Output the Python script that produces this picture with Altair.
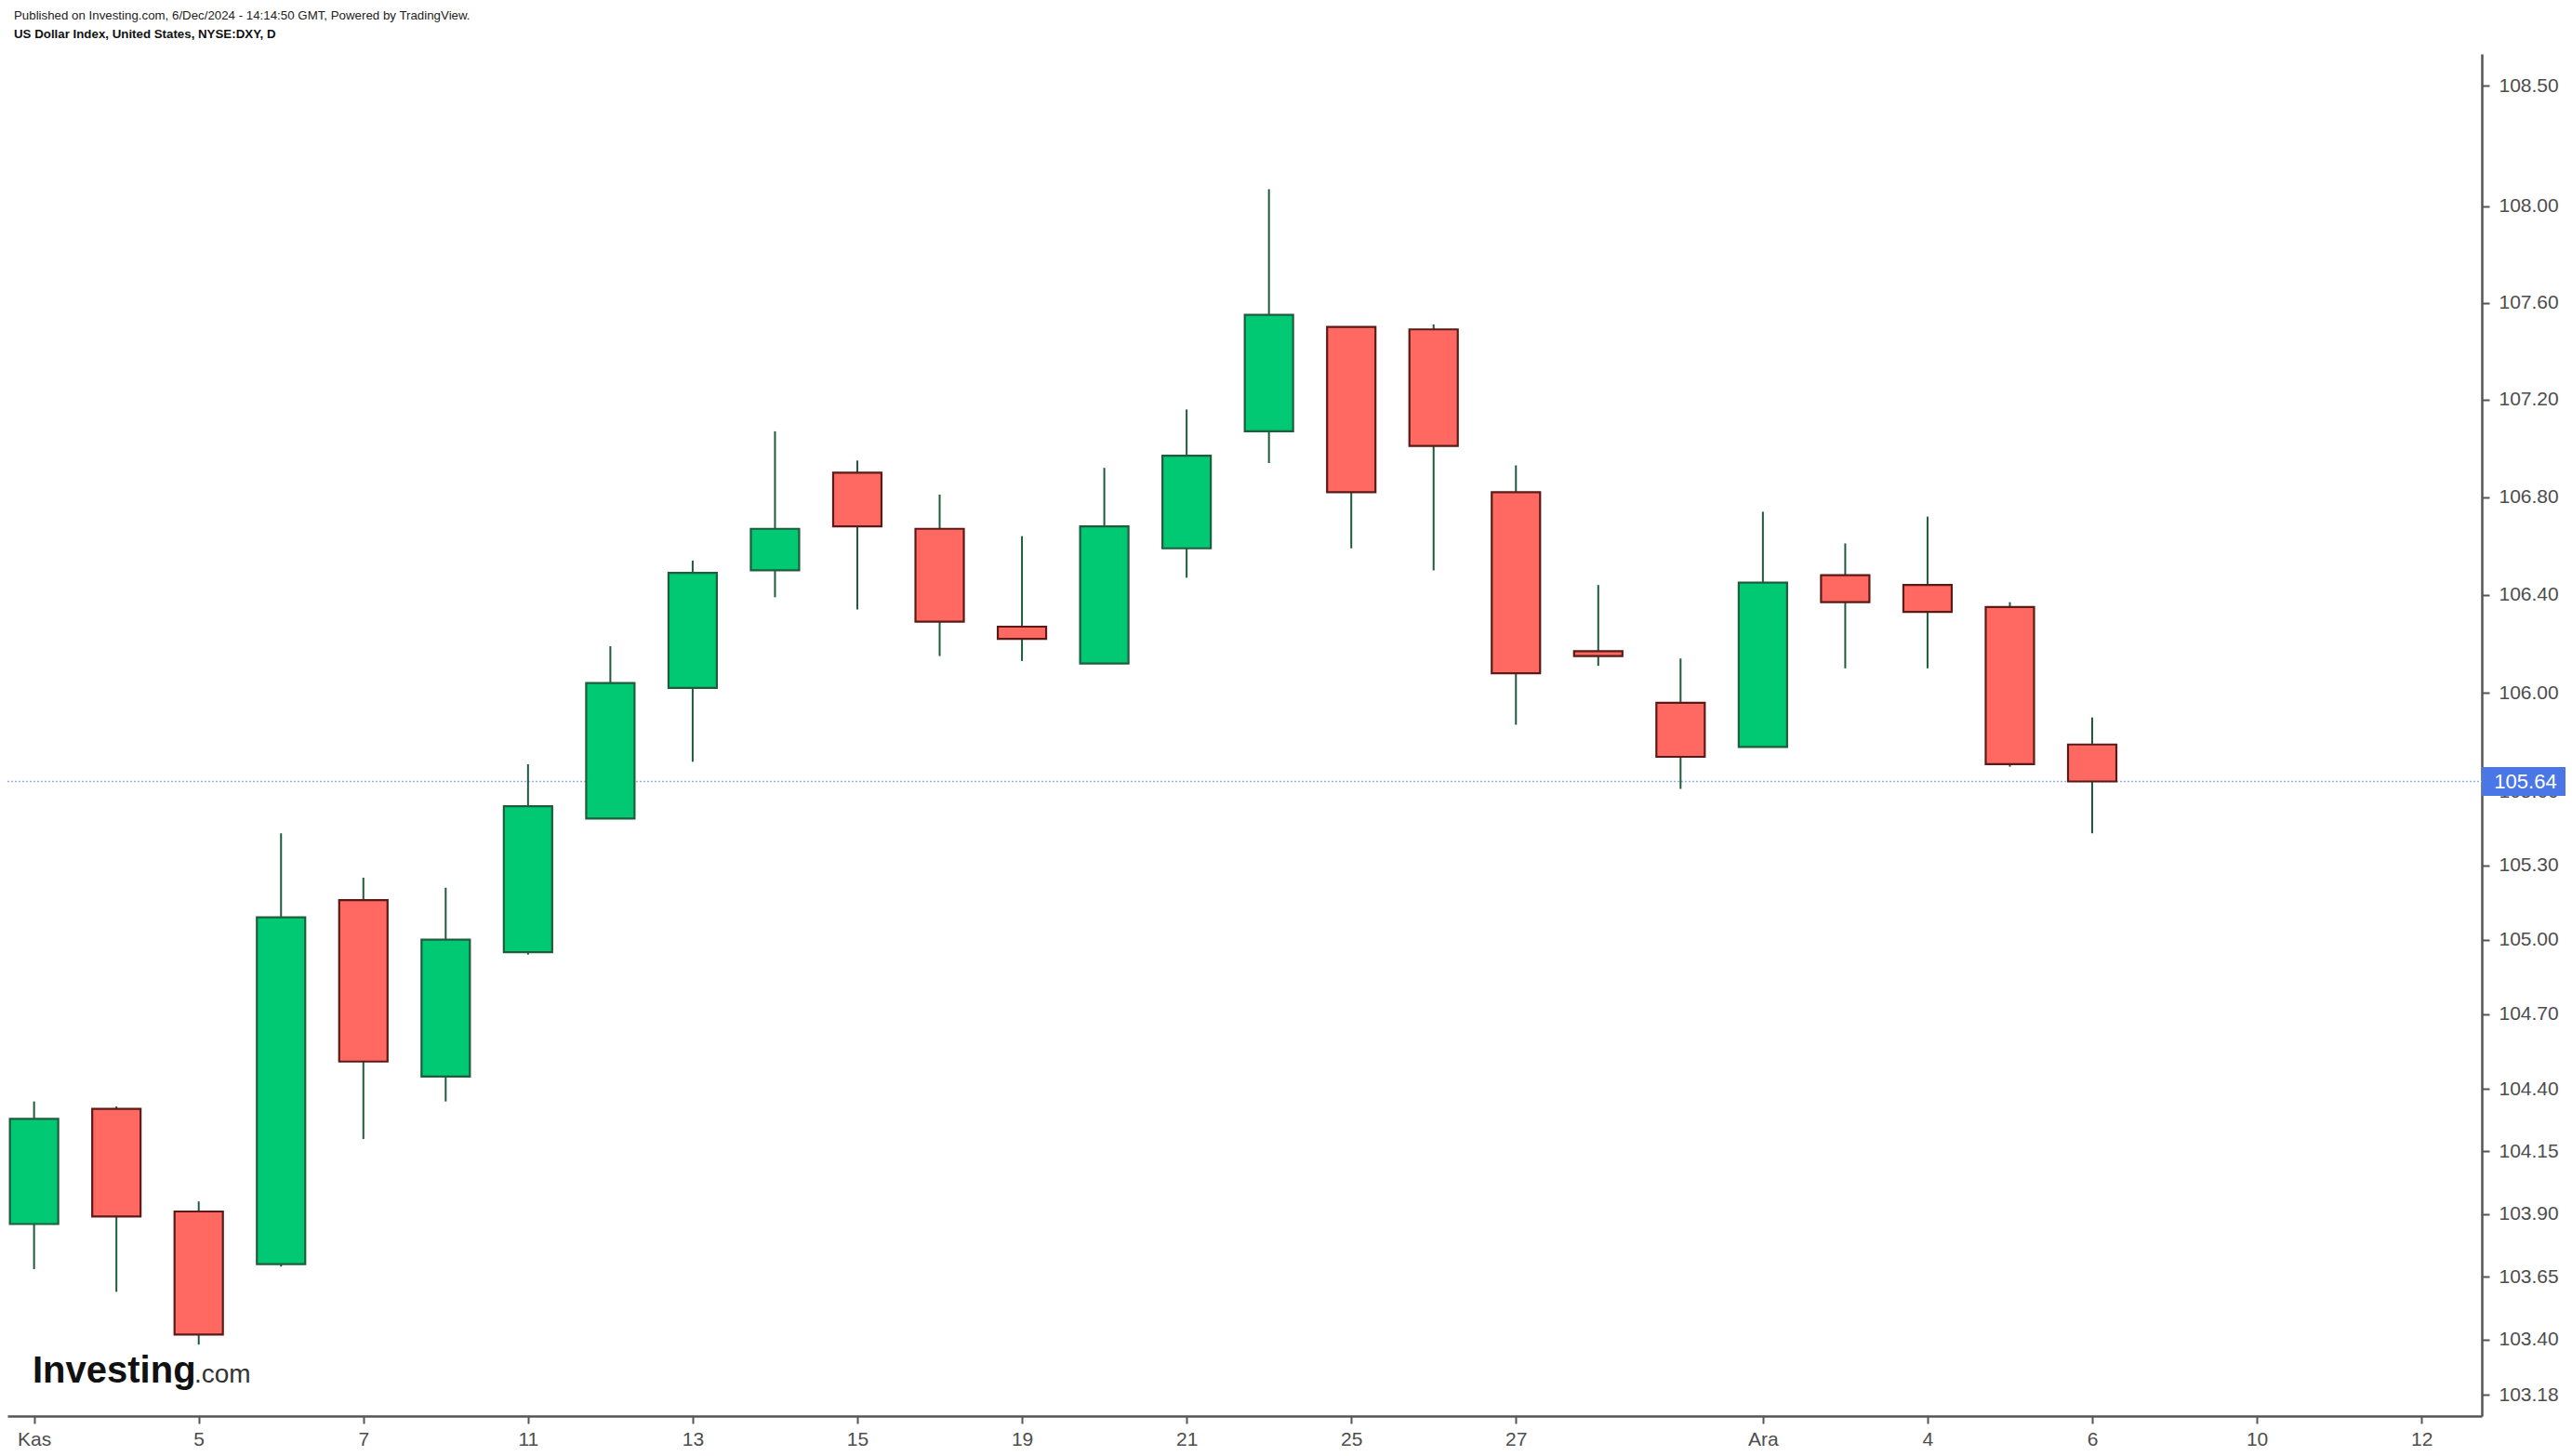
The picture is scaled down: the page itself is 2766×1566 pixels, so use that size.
import altair as alt
import pandas as pd

# ---- data ----
dates = ["2024-11-01", "2024-11-04", "2024-11-05", "2024-11-06", "2024-11-07", "2024-11-08",
         "2024-11-11", "2024-11-12", "2024-11-13", "2024-11-14", "2024-11-15", "2024-11-18",
         "2024-11-19", "2024-11-20", "2024-11-21", "2024-11-22", "2024-11-25", "2024-11-26",
         "2024-11-27", "2024-11-28", "2024-11-29", "2024-12-02", "2024-12-03", "2024-12-04",
         "2024-12-05", "2024-12-06"]
opens = [103.86, 104.32, 103.91, 103.70, 105.16, 104.45, 104.95, 105.49, 106.02, 106.50,
         106.90, 106.67, 106.27, 106.12, 106.59, 107.07, 107.50, 107.49, 106.82, 106.17,
         105.96, 105.78, 106.48, 106.44, 106.35, 105.79]
highs = [104.35, 104.33, 103.95, 105.43, 105.25, 105.21, 105.71, 106.19, 106.54, 107.07,
         106.95, 106.81, 106.64, 106.92, 107.16, 108.07, 107.50, 107.51, 106.93, 106.44,
         106.14, 106.74, 106.61, 106.72, 106.37, 105.90]
lows = [103.68, 103.59, 103.38, 103.69, 104.20, 104.35, 104.94, 105.49, 105.72, 106.39,
        106.34, 106.15, 106.13, 106.12, 106.47, 106.94, 106.59, 106.50, 105.87, 106.11,
        105.61, 105.78, 106.10, 106.10, 105.70, 105.43]
closes = [104.28, 103.89, 103.42, 105.09, 104.51, 105.00, 105.54, 106.04, 106.49, 106.67,
          106.68, 106.29, 106.22, 106.68, 106.97, 107.55, 106.82, 107.01, 106.08, 106.15,
          105.74, 106.45, 106.37, 106.33, 105.71, 105.64]

# trading-day axis (including the empty days to the right)
axis_labels = ["Kas", "", "5", "", "7", "", "11", "", "13", "", "15", "", "19", "", "21", "",
               "25", "", "27", "", "", "Ara", "", "4", "", "6", "", "10", "", "12"]
y_ticks = [103.18, 103.40, 103.65, 103.90, 104.15, 104.40, 104.70, 105.00, 105.30, 105.60,
           106.00, 106.40, 106.80, 107.20, 107.60, 108.00, 108.50]
header = ["Published on Investing.com, 6/Dec/2024 - 14:14:50 GMT, Powered by TradingView.",
          "US Dollar Index, United States, NYSE:DXY, D"]
last_price = closes[-1]

df = pd.DataFrame({"date": dates, "open": opens, "high": highs, "low": lows, "close": closes})
df["idx"] = range(len(df))
df["dir"] = ["up" if c >= o else "down" for o, c in zip(opens, closes)]

x_ticks = [i for i, l in enumerate(axis_labels) if l]
label_array = "[" + ",".join("'" + l + "'" for l in axis_labels) + "]"

W, H = 2661, 1465
xscale = alt.Scale(domain=[-0.267, 29.676], nice=False, zero=False)
yscale = alt.Scale(type="log", domain=[103.097, 108.633], nice=False, zero=False)

x_enc = alt.X("idx:Q", scale=xscale,
              axis=alt.Axis(values=x_ticks, labelExpr=label_array + "[datum.value]",
                            title=None, grid=False, domainColor="#555555", domainWidth=2.5,
                            tickColor="#555555", tickWidth=2, tickSize=8, labelPadding=6,
                            labelFontSize=21, labelColor="#4d4d4d", labelFont="Liberation Sans"))
y_axis = alt.Axis(orient="right", values=y_ticks, format=".2f", title=None, grid=False,
                  domainColor="#555555", domainWidth=2.5, tickColor="#555555", tickWidth=2,
                  tickSize=8, labelPadding=10, labelFontSize=21, labelColor="#4d4d4d",
                  labelFont="Liberation Sans")

base = alt.Chart(df)

wicks = base.mark_rule(color="#1e5b3b", strokeWidth=2).encode(
    x=x_enc,
    y=alt.Y("low:Q", scale=yscale, axis=y_axis),
    y2="high:Q",
)

bodies = base.mark_bar(size=52, strokeWidth=2.2).encode(
    x=alt.X("idx:Q", scale=xscale),
    y=alt.Y("open:Q", scale=yscale),
    y2="close:Q",
    fill=alt.Fill("dir:N", scale=alt.Scale(domain=["up", "down"], range=["#00c873", "#ff6961"]), legend=None),
    stroke=alt.Stroke("dir:N", scale=alt.Scale(domain=["up", "down"], range=["#1e5e3c", "#5c1a16"]), legend=None),
)

price_df = pd.DataFrame({"price": [last_price], "label": [f"{last_price:.2f}"]})
price_line = alt.Chart(price_df).mark_rule(color="#93aef0", strokeWidth=1.5, strokeDash=[2, 2]).encode(
    y=alt.Y("price:Q", scale=yscale),
    x=alt.value(0), x2=alt.value(W),
)
price_box = alt.Chart(price_df).mark_tick(orient="horizontal", size=90, thickness=31,
                                          color="#4a76e6", opacity=1).encode(
    y=alt.Y("price:Q", scale=yscale),
    x=alt.value(2706),
)
price_text = alt.Chart(price_df).mark_text(color="white", fontSize=22, font="Liberation Sans",
                                           align="center", baseline="middle").encode(
    y=alt.Y("price:Q", scale=yscale),
    x=alt.value(2708),
    text="label:N",
)

hdr_df = pd.DataFrame({"t": header, "row": [0, 1]})
hdr1 = alt.Chart(hdr_df.iloc[[0]]).mark_text(align="left", baseline="alphabetic", fontSize=13.3,
                                             font="Liberation Sans", color="#222222").encode(
    x=alt.value(7), y=alt.value(-37), text="t:N")
hdr2 = alt.Chart(hdr_df.iloc[[1]]).mark_text(align="left", baseline="alphabetic", fontSize=13.3,
                                             font="Liberation Sans", fontWeight="bold",
                                             color="#111111").encode(
    x=alt.value(7), y=alt.value(-17), text="t:N")

logo_df = pd.DataFrame({"a": ["Investing"], "b": [".com"]})
logo1 = alt.Chart(logo_df).mark_text(align="left", baseline="alphabetic", fontSize=40,
                                     font="Liberation Sans", fontWeight="bold", color="#111111").encode(
    x=alt.value(27), y=alt.value(1429), text="a:N")
logo2 = alt.Chart(logo_df).mark_text(align="left", baseline="alphabetic", fontSize=28,
                                     font="Liberation Sans", color="#333333").encode(
    x=alt.value(201), y=alt.value(1429), text="b:N")

chart = alt.layer(price_line, wicks, bodies, price_box, price_text, hdr1, hdr2, logo1, logo2).properties(
    width=W, height=H,
    autosize=alt.AutoSizeParams(type="none"),
    padding={"left": 8, "top": 58, "right": 97, "bottom": 43},
    background="white",
).configure_view(stroke=None)

chart.save("out.html", embed_options={"renderer": "svg", "actions": False})
